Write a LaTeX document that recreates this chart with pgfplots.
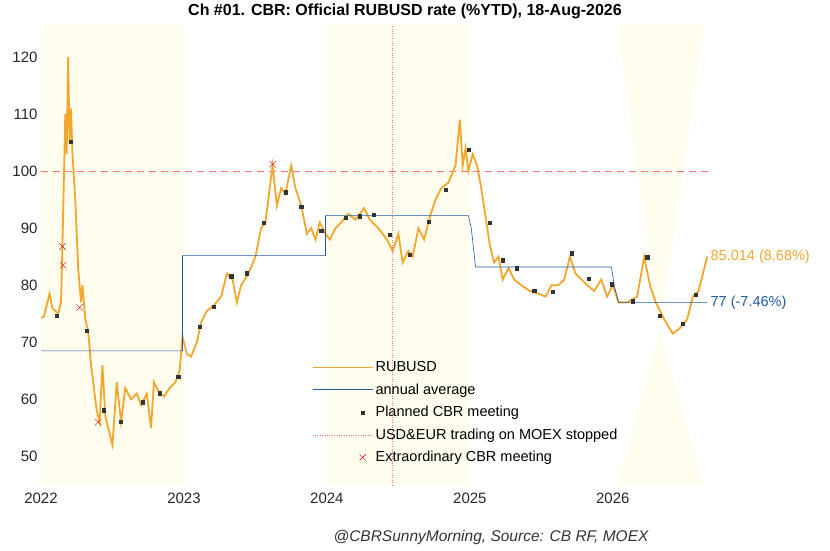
\documentclass[border=0pt]{standalone}
\usepackage{pgfplots}
\pgfplotsset{compat=1.18}
\usepackage{fontspec}
\setmainfont{Liberation Sans}
\definecolor{rub}{HTML}{F2A72C}
\definecolor{avg}{HTML}{1E5AA8}
\definecolor{band}{HTML}{FEFDEE}
\pgfplotsset{
 lineleg/.style={legend image code/.code={\draw[##1] (0pt,0pt) -- (60pt,0pt);}},
 markleg/.style={legend image code/.code={\draw[##1] plot coordinates {(50pt,0pt)};}}}
\begin{document}
\begin{tikzpicture}[x=1pt,y=1pt]
\useasboundingbox (-41,-66) rectangle (789,485);
\begin{axis}[at={(0,0)},anchor=south west,scale only axis,width=669pt,height=460pt,
 xmin=2022,xmax=2026.68,ymin=45,ymax=125.6,
 axis line style={draw=none}, major tick length=0pt, clip=false,
 xtick={2022,2023,2024,2025,2026}, ytick={50,60,...,120},
 xticklabel style={/pgf/number format/1000 sep=,yshift=-4pt},
 /pgf/number format/assume math mode=true,
 tick label style={font=\fontsize{15}{17}\selectfont,color=black!85},
 legend style={at={(0.4,0.038)},anchor=south west,draw=none,fill=none,font=\fontsize{14.5}{16}\selectfont,row sep=6.5pt,cells={anchor=west},
   /tikz/every even column/.append style={column sep=3pt}},
 lineleg,
 legend cell align=left]
\addplot[fill=band,draw=none,forget plot] coordinates {(2022,45)(2023,45)(2023,125.6)(2022,125.6)} \closedcycle;
\addplot[fill=band,draw=none,forget plot] coordinates {(2024,45)(2025,45)(2025,125.6)(2024,125.6)} \closedcycle;
\addplot[fill=band,draw=none,forget plot] coordinates {(2026.03,125.6)(2026.64,125.6)(2026.33,72)(2026.64,45)(2026.03,45)(2026.33,72)} -- cycle;
\addplot[red!55,dash pattern=on 7pt off 5pt,thin,forget plot] coordinates {(2022,100)(2026.68,100)};
\addplot[rub,line width=1.8pt] coordinates {
(2022.00,74.3)(2022.02,74.5)(2022.04,76.5)(2022.06,78.5)(2022.08,76)(2022.10,75.5)(2022.12,75)(2022.14,77)(2022.15,87)(2022.17,110)(2022.18,103)(2022.19,120)(2022.20,105)(2022.21,111)(2022.22,103)(2022.24,95)(2022.26,83)(2022.28,77)(2022.29,80)(2022.31,74)(2022.33,72)(2022.35,66)(2022.37,62)(2022.39,58)(2022.41,56)(2022.43,66)(2022.45,57)(2022.47,55)(2022.50,52)(2022.53,63)(2022.56,56)(2022.59,62)(2022.63,60)(2022.67,61)(2022.70,59)(2022.74,61)(2022.77,55)(2022.79,63)(2022.83,61)(2022.86,60.5)(2022.90,62)(2022.94,63)(2022.97,65)(2022.99,71)(2023.02,68)(2023.05,67.5)(2023.09,70)(2023.12,73.5)(2023.16,75.5)(2023.21,76.5)(2023.26,78)(2023.30,82)(2023.34,81)(2023.37,77)(2023.40,80)(2023.45,82)(2023.50,85)(2023.54,90)(2023.57,91)(2023.60,97)(2023.62,101)(2023.65,94)(2023.68,97)(2023.71,96)(2023.75,101)(2023.78,97)(2023.82,94)(2023.86,89)(2023.89,90)(2023.92,88)(2023.95,91)(2023.99,89)(2024.02,88)(2024.06,90)(2024.10,91)(2024.15,92.5)(2024.20,91.5)(2024.26,93.5)(2024.30,91.5)(2024.36,90)(2024.42,88)(2024.46,86)(2024.50,89)(2024.53,84)(2024.57,86)(2024.60,85)(2024.64,90)(2024.68,88)(2024.72,92)(2024.76,95)(2024.80,97)(2024.85,98)(2024.90,101)(2024.93,109)(2024.95,101)(2024.97,104)(2024.99,100)(2025.02,103)(2025.05,101)(2025.08,97)(2025.11,92)(2025.14,87)(2025.17,84)(2025.20,85)(2025.23,81)(2025.27,83)(2025.31,81)(2025.36,80)(2025.42,79)(2025.48,78.5)(2025.53,78)(2025.57,80)(2025.62,80)(2025.66,81)(2025.70,85)(2025.74,82)(2025.78,81)(2025.82,80)(2025.87,79)(2025.92,81)(2025.96,78)(2026.00,80)(2026.04,77)(2026.10,77)(2026.17,78)(2026.22,85)(2026.26,80)(2026.30,77)(2026.36,74)(2026.42,71.5)(2026.47,72.5)(2026.52,74)(2026.56,78)(2026.60,79)(2026.63,82)(2026.66,85.0)};
\addlegendentry{RUBUSD}
\addplot[avg,semithick] coordinates {(2022,68.5)(2022.99,68.5)(2022.99,85.2)(2023.99,85.2)(2023.99,92.2)(2024.99,92.2)(2025.01,90)(2025.04,83.2)(2025.99,83.2)(2026.01,80)(2026.04,77)(2026.66,77)};
\addlegendentry{annual average}
\addplot[only marks,mark=square*,mark size=1.6pt,black!80,markleg] coordinates {
(2022.11,74.6)(2022.21,105.1)(2022.32,72.1)(2022.44,58.1)(2022.56,56.1)(2022.71,59.5)(2022.83,61.1)(2022.96,64.0)(2023.11,72.8)(2023.21,76.3)(2023.33,81.6)(2023.44,82.1)(2023.56,90.9)(2023.71,96.3)(2023.82,93.7)(2023.96,89.6)(2024.13,91.9)(2024.23,92.1)(2024.33,92.3)(2024.44,88.8)(2024.58,85.4)(2024.71,91.2)(2024.83,96.8)(2024.99,103.7)(2025.14,91)(2025.23,84.4)(2025.33,83)(2025.45,79.1)(2025.58,78.8)(2025.71,85.6)(2025.83,81.2)(2025.99,80.2)(2026.14,77.2)(2026.24,84.9)(2026.33,74.7)(2026.49,73.2)(2026.58,78.4)};
\addlegendentry{Planned CBR meeting}
\addplot[red!55,dotted,thin] coordinates {(2024.46,45)(2024.46,125.6)};
\addlegendentry{USD\&EUR trading on MOEX stopped}
\addplot[only marks,mark=x,mark size=4.5pt,red!85!black,thin,markleg] coordinates {(2022.15,86.8)(2022.155,83.5)(2022.27,76.1)(2022.40,56)(2023.62,101.2)};
\addlegendentry{Extraordinary CBR meeting}
\node[anchor=west,text=rub,font=\fontsize{14.5}{16}\selectfont] at (axis cs:2026.66,85.0) {85.014 (8.68\%)};
\node[anchor=west,text=avg,font=\fontsize{14.5}{16}\selectfont] at (axis cs:2026.66,77) {77 (-7.46\%)};
\end{axis}
\node[font=\bfseries\fontsize{16}{18}\selectfont] at (364,474) {Ch \#01. CBR: Official RUBUSD rate (\%YTD), 18-Aug-2026};
\node[font=\itshape\fontsize{15.5}{18}\selectfont,text=black!80] at (450,-52) {@CBRSunnyMorning, Source: CB RF, MOEX};
\end{tikzpicture}
\end{document}
